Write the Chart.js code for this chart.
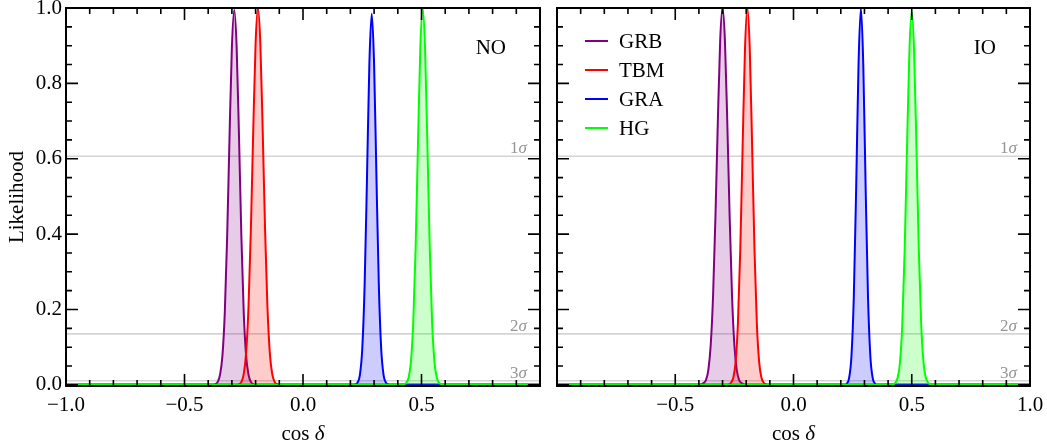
<!DOCTYPE html>
<html><head><meta charset="utf-8">
<script src="https://cdn.jsdelivr.net/npm/chart.js@4/dist/chart.umd.min.js"></script>
<style>
html,body{margin:0;padding:0;background:#fff;}
#wrap{position:relative;width:1047px;height:446px;overflow:hidden;}
#c1{position:absolute;left:0;top:0;width:548px;height:446px;}
#c2{position:absolute;left:548px;top:0;width:499px;height:446px;}
</style></head><body>
<div id="wrap"><canvas id="c1" width="548" height="446"></canvas><canvas id="c2" width="499" height="446"></canvas></div>
<script>
// ---------- data ----------
const seriesNames = ['GRB', 'TBM', 'GRA', 'HG'];

// Normal ordering (NO), left panel
const noGRB_x = [-1.0, -0.38, -0.37, -0.36, -0.35, -0.34, -0.33, -0.32, -0.31, -0.30, -0.29, -0.28, -0.27, -0.26, -0.25, -0.24, -0.23, -0.22, -0.21, -0.20, 1.0];
const noGRB_y = [0, 0, 0.002, 0.008, 0.027, 0.077, 0.191, 0.393, 0.658, 0.897, 0.995, 0.897, 0.658, 0.393, 0.191, 0.077, 0.027, 0.008, 0.002, 0, 0];
const noTBM_x = [-1.0, -0.28, -0.27, -0.26, -0.25, -0.24, -0.23, -0.22, -0.21, -0.20, -0.19, -0.18, -0.17, -0.16, -0.15, -0.14, -0.13, -0.12, -0.11, -0.10, 1.0];
const noTBM_y = [0, 0, 0.002, 0.008, 0.029, 0.085, 0.206, 0.411, 0.674, 0.906, 1.0, 0.906, 0.674, 0.411, 0.206, 0.085, 0.029, 0.008, 0.002, 0, 0];
const noGRA_x = [-1.0, 0.21, 0.22, 0.23, 0.24, 0.25, 0.26, 0.27, 0.28, 0.29, 0.30, 0.31, 0.32, 0.33, 0.34, 0.35, 0.36, 0.37, 1.0];
const noGRA_y = [0, 0, 0.001, 0.006, 0.026, 0.095, 0.264, 0.549, 0.851, 0.985, 0.851, 0.549, 0.264, 0.095, 0.026, 0.006, 0.001, 0, 0];
const noHG_x = [-1.0, 0.415, 0.425, 0.435, 0.445, 0.455, 0.465, 0.475, 0.485, 0.495, 0.505, 0.515, 0.525, 0.535, 0.545, 0.555, 0.565, 0.575, 0.585, 0.595, 1.0];
const noHG_y = [0, 0, 0.001, 0.005, 0.018, 0.059, 0.163, 0.360, 0.635, 0.893, 1.0, 0.893, 0.635, 0.360, 0.163, 0.059, 0.018, 0.005, 0.001, 0, 0];

// Inverted ordering (IO), right panel
const ioGRB_x = [-1.0, -0.40, -0.39, -0.38, -0.37, -0.36, -0.35, -0.34, -0.33, -0.32, -0.31, -0.30, -0.29, -0.28, -0.27, -0.26, -0.25, -0.24, -0.23, -0.22, -0.21, -0.20, 1.0];
const ioGRB_y = [0, 0, 0.002, 0.005, 0.013, 0.040, 0.106, 0.238, 0.446, 0.698, 0.914, 1.0, 0.914, 0.698, 0.446, 0.238, 0.106, 0.040, 0.013, 0.005, 0.002, 0, 0];
const ioTBM_x = [-1.0, -0.285, -0.275, -0.265, -0.255, -0.245, -0.235, -0.225, -0.215, -0.205, -0.195, -0.185, -0.175, -0.165, -0.155, -0.145, -0.135, -0.125, -0.115, -0.105, 1.0];
const ioTBM_y = [0, 0, 0.001, 0.005, 0.018, 0.059, 0.163, 0.360, 0.635, 0.893, 1.0, 0.893, 0.635, 0.360, 0.163, 0.059, 0.018, 0.005, 0.001, 0, 0];
const ioGRA_x = [-1.0, 0.215, 0.225, 0.235, 0.245, 0.255, 0.265, 0.275, 0.285, 0.295, 0.305, 0.315, 0.325, 0.335, 0.345, 0.355, 1.0];
const ioGRA_y = [0, 0, 0.003, 0.018, 0.076, 0.234, 0.524, 0.851, 1.0, 0.851, 0.524, 0.234, 0.076, 0.018, 0.003, 0, 0];
const ioHG_x = [-1.0, 0.41, 0.42, 0.43, 0.44, 0.45, 0.46, 0.47, 0.48, 0.49, 0.50, 0.51, 0.52, 0.53, 0.54, 0.55, 0.56, 0.57, 0.58, 0.59, 1.0];
const ioHG_y = [0, 0, 0.001, 0.005, 0.018, 0.058, 0.161, 0.356, 0.629, 0.884, 0.99, 0.884, 0.629, 0.356, 0.161, 0.058, 0.018, 0.005, 0.001, 0, 0];

// reference levels (1σ, 2σ, 3σ)
const sigmaNames = ['1', '2', '3'];
const sigmaLevels = [0.6065, 0.1353, 0.0111];

// tick labels
const leftXTickLabels = [-1.0, -0.5, 0.0, 0.5];
const rightXTickLabels = [-0.5, 0.0, 0.5, 1.0];
const yTickLabels = [0.0, 0.2, 0.4, 0.6, 0.8, 1.0];

// ---------- styling ----------
const SERIF = "'Liberation Serif', 'Times New Roman', serif";
const colors = ['#800080', '#ff0000', '#0000ff', '#00ff00'];
const fills = ['rgba(128,0,128,0.2)', 'rgba(255,0,0,0.2)', 'rgba(0,0,255,0.2)', 'rgba(0,255,0,0.2)'];

const zip = (xs, ys) => xs.map((x, i) => ({x: x, y: ys[i]}));
const fmt = v => (v < 0 ? '\u2212' : '') + Math.abs(v).toFixed(1);

function buildDatasets(xsList, ysList) {
  return seriesNames.map((name, i) => ({
    label: name,
    data: zip(xsList[i], ysList[i]),
    borderColor: colors[i],
    backgroundColor: fills[i],
    borderWidth: 2,
    pointRadius: 0,
    fill: 'origin',
    cubicInterpolationMode: 'monotone',
    order: 3 - i
  }));
}

const deco = {
  id: 'deco',
  beforeDatasetsDraw(chart) {
    const ctx = chart.ctx, a = chart.chartArea, y = chart.scales.y;
    ctx.save();
    ctx.beginPath(); ctx.rect(a.left, a.top, a.width, a.height); ctx.clip();
    ctx.strokeStyle = '#d4d4d4'; ctx.lineWidth = 1.6;
    sigmaLevels.forEach(v => {
      const py = y.getPixelForValue(v);
      ctx.beginPath(); ctx.moveTo(a.left, py); ctx.lineTo(a.right, py); ctx.stroke();
    });
    ctx.restore();
    ctx.save();
    ctx.fillStyle = '#959595';
    ctx.textBaseline = 'alphabetic'; ctx.textAlign = 'left';
    sigmaLevels.forEach((v, i) => {
      const py = y.getPixelForValue(v) - 3;
      ctx.font = '17px ' + SERIF; const w1 = ctx.measureText(sigmaNames[i]).width;
      ctx.font = 'italic 17px ' + SERIF; const w2 = ctx.measureText('\u03c3').width;
      const xr = a.right - 13;
      ctx.font = '17px ' + SERIF; ctx.fillText(sigmaNames[i], xr - w1 - w2, py);
      ctx.font = 'italic 17px ' + SERIF; ctx.fillText('\u03c3', xr - w2, py);
    });
    ctx.restore();
  },
  afterDatasetsDraw(chart) {
    const ctx = chart.ctx, a = chart.chartArea, xs = chart.scales.x, ys = chart.scales.y;
    ctx.save();
    ctx.strokeStyle = '#000';
    ctx.lineWidth = 1.6;
    for (let i = -10; i <= 10; i++) {
      const px = xs.getPixelForValue(i / 10);
      const len = (i % 5 === 0) ? 12 : 6;
      ctx.beginPath();
      ctx.moveTo(px, a.bottom); ctx.lineTo(px, a.bottom - len);
      ctx.moveTo(px, a.top); ctx.lineTo(px, a.top + len);
      ctx.stroke();
    }
    for (let i = 0; i <= 20; i++) {
      const py = ys.getPixelForValue(i / 20);
      const len = (i % 4 === 0) ? 12 : 6;
      ctx.beginPath();
      ctx.moveTo(a.left, py); ctx.lineTo(a.left + len, py);
      ctx.moveTo(a.right, py); ctx.lineTo(a.right - len, py);
      ctx.stroke();
    }
    ctx.lineWidth = 2;
    ctx.strokeRect(a.left, a.top, a.right - a.left, a.bottom - a.top);
    ctx.restore();
  },
  afterDraw(chart, args, opts) {
    const ctx = chart.ctx, a = chart.chartArea;
    ctx.save();
    ctx.fillStyle = '#000';
    ctx.textBaseline = 'alphabetic';
    // x title "cos δ"
    ctx.font = '21px ' + SERIF;
    const t1 = 'cos ';
    const w1 = ctx.measureText(t1).width;
    ctx.font = 'italic 21px ' + SERIF;
    const w2 = ctx.measureText('\u03b4').width;
    const cx = (a.left + a.right) / 2;
    const x0 = cx - (w1 + w2) / 2;
    ctx.textAlign = 'left';
    ctx.font = '21px ' + SERIF; ctx.fillText(t1, x0, 440);
    ctx.font = 'italic 21px ' + SERIF; ctx.fillText('\u03b4', x0 + w1, 440);
    // panel label
    ctx.font = '21px ' + SERIF;
    ctx.textAlign = 'right';
    ctx.fillText(opts.panel, a.right - 34, 54);
    // legend
    if (opts.legend) {
      chart.data.datasets.forEach((ds, i) => {
        const yy = a.top + 33 + i * 29;
        ctx.strokeStyle = ds.borderColor; ctx.lineWidth = 2;
        ctx.beginPath(); ctx.moveTo(a.left + 28, yy); ctx.lineTo(a.left + 51, yy); ctx.stroke();
        ctx.fillStyle = '#000'; ctx.textAlign = 'left';
        ctx.font = '21px ' + SERIF;
        ctx.fillText(ds.label, a.left + 62, yy + 7);
      });
    }
    ctx.restore();
  }
};

function xScale(tickVals) {
  return {
    type: 'linear', min: -1, max: 1,
    afterBuildTicks: s => { s.ticks = tickVals.map(v => ({value: v})); },
    afterFit: s => { s.height = 60; s.paddingLeft = 0; s.paddingRight = 0; },
    ticks: { callback: v => fmt(v), font: {family: SERIF, size: 21}, color: '#000', padding: 7, maxRotation: 0, autoSkip: false },
    grid: { display: false, drawTicks: false },
    border: { display: false }
  };
}

const commonOpts = {
  responsive: false,
  animation: false,
  events: [],
  plugins: { legend: { display: false }, tooltip: { enabled: false } }
};

new Chart(document.getElementById('c1'), {
  type: 'line',
  data: { datasets: buildDatasets([noGRB_x, noTBM_x, noGRA_x, noHG_x], [noGRB_y, noTBM_y, noGRA_y, noHG_y]) },
  options: Object.assign({}, commonOpts, {
    layout: { padding: { left: 0, right: 8, top: 8, bottom: 0 } },
    plugins: { legend: { display: false }, tooltip: { enabled: false }, deco: { panel: 'NO', legend: false } },
    scales: {
      x: xScale(leftXTickLabels),
      y: {
        type: 'linear', min: -0.003, max: 1,
        afterBuildTicks: s => { s.ticks = yTickLabels.map(v => ({value: v})); },
        afterFit: s => { s.width = 66; s.paddingTop = 0; s.paddingBottom = 0; },
        ticks: { callback: v => v.toFixed(1), font: {family: SERIF, size: 21}, color: '#000', padding: 4 },
        grid: { display: false, drawTicks: false },
        border: { display: false },
        title: { display: true, text: 'Likelihood', font: {family: SERIF, size: 21}, color: '#000', padding: {top: 5, bottom: 0} }
      }
    }
  }),
  plugins: [deco]
});

new Chart(document.getElementById('c2'), {
  type: 'line',
  data: { datasets: buildDatasets([ioGRB_x, ioTBM_x, ioGRA_x, ioHG_x], [ioGRB_y, ioTBM_y, ioGRA_y, ioHG_y]) },
  options: Object.assign({}, commonOpts, {
    layout: { padding: { left: 9, right: 17, top: 8, bottom: 0 } },
    plugins: { legend: { display: false }, tooltip: { enabled: false }, deco: { panel: 'IO', legend: true } },
    scales: {
      x: xScale(rightXTickLabels),
      y: { type: 'linear', min: -0.003, max: 1, display: false }
    }
  }),
  plugins: [deco]
});
</script>
</body></html>
